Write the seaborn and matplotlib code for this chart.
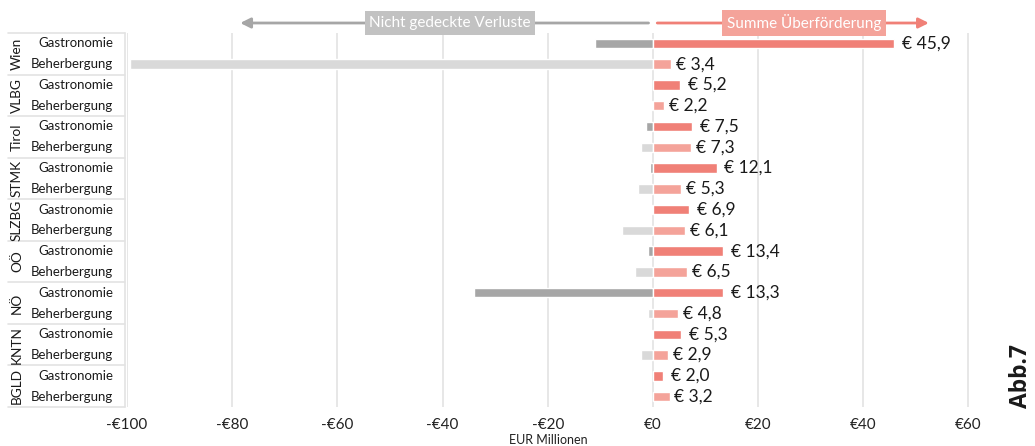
import matplotlib
matplotlib.use("Agg")
import matplotlib.pyplot as plt
import matplotlib.transforms as mtrans
import seaborn as sns
import pandas as pd

regions = ["Wien", "VLBG", "Tirol", "STMK", "SLZBG", "OÖ", "NÖ", "KNTN", "BGLD"]
subcats = ["Gastronomie", "Beherbergung"]
# Summe Überförderung (EUR Mio.), per region: [Gastronomie, Beherbergung]
surplus_gastro = [45.9, 5.2, 7.5, 12.1, 6.9, 13.4, 13.3, 5.3, 2.0]
surplus_beh = [3.4, 2.2, 7.3, 5.3, 6.1, 6.5, 4.8, 2.9, 3.2]
# Nicht gedeckte Verluste (EUR Mio.)
loss_gastro = [-11.0, 0.0, -1.4, -0.6, -0.2, -1.0, -34.1, -0.2, 0.0]
loss_beh = [-99.4, -0.2, -2.3, -2.8, -5.8, -3.4, -1.0, -2.3, 0.0]
xticks = [-100, -80, -60, -40, -20, 0, 20, 40, 60]

rows = []
for i, r in enumerate(regions):
    rows.append(dict(key=f"{r}|Gastronomie", region=r, sub="Gastronomie",
                     pos=surplus_gastro[i], neg=loss_gastro[i]))
    rows.append(dict(key=f"{r}|Beherbergung", region=r, sub="Beherbergung",
                     pos=surplus_beh[i], neg=loss_beh[i]))
df = pd.DataFrame(rows)
order = list(df["key"])

sns.set_theme(style="white")
plt.rcParams["font.family"] = ["Lato", "DejaVu Sans"]

W, H = 1035, 446
fig = plt.figure(figsize=(W / 100, H / 100), dpi=100)
x0, x1 = 127, 1000
y0, y1 = 33, 407
ax = fig.add_axes([x0 / W, 1 - y1 / H, (x1 - x0) / W, (y1 - y0) / H])

pos_pal = {"Gastronomie": "#F08077", "Beherbergung": "#F4A39A"}
neg_pal = {"Gastronomie": "#A6A6A6", "Beherbergung": "#D9D9D9"}

sns.barplot(data=df, x="neg", y="key", hue="sub", order=order, hue_order=subcats,
            palette=neg_pal, dodge=False, width=0.45, ax=ax, legend=False,
            orient="h", saturation=1)
sns.barplot(data=df, x="pos", y="key", hue="sub", order=order, hue_order=subcats,
            palette=pos_pal, dodge=False, width=0.45, ax=ax, legend=False,
            orient="h", saturation=1)

ax.set_xlim(-100, 66)
ax.set_ylim(len(order) - 0.5, -0.5)
ax.set_xticks(xticks)
ax.set_xticklabels([("-€" if v < 0 else "€") + str(abs(v)) for v in xticks],
                   fontsize=11, color="#222222")
ax.tick_params(axis="x", length=0, pad=8)
ax.set_yticks([])
ax.set_ylabel("")
ax.set_xlabel("")
for s in ax.spines.values():
    s.set_visible(False)
ax.grid(False)
for v in xticks:
    ax.axvline(v, color="#E3E3E3", lw=1.2, zorder=0)

# value labels
for i, row in df.iterrows():
    off = 1.5 if row["sub"] == "Gastronomie" else 0.9
    ax.text(row["pos"] + off, i, "€ " + f"{row['pos']:.1f}".replace(".", ","),
            va="center", ha="left", fontsize=12.5, color="#1a1a1a")

# left table
bt = mtrans.blended_transform_factory(fig.transFigure, ax.transData)
tl, tr = 8 / W, 125 / W
for k in range(len(regions) + 1):
    yy = 2 * k - 0.5
    ax.plot([tl, tr], [yy, yy], transform=bt, color="#E3E3E3", lw=1.2, clip_on=False)
ax.plot([tr, tr], [-0.5, len(order) - 0.5], transform=bt, color="#E3E3E3", lw=1.2,
        clip_on=False)
for k, r in enumerate(regions):
    ax.text(17 / W, 2 * k + 0.5, r, transform=bt, rotation=90, ha="center",
            va="center", fontsize=9.8, color="#1a1a1a")
for i, row in df.iterrows():
    ax.text(113 / W, i, row["sub"], transform=bt, ha="right", va="center",
            fontsize=9.5, color="#1a1a1a")

# top arrows with labels
at = mtrans.blended_transform_factory(ax.transData, ax.transAxes)
ya = 1 + (y0 - 23) / (y1 - y0)
ax.annotate("", xy=(-79, ya), xytext=(-0.3, ya), xycoords=at, textcoords=at,
            arrowprops=dict(arrowstyle="-|>,head_length=0.5,head_width=0.25",
                            color="#A6A6A6", lw=2.0), annotation_clip=False)
ax.annotate("", xy=(53, ya), xytext=(0.3, ya), xycoords=at, textcoords=at,
            arrowprops=dict(arrowstyle="-|>,head_length=0.5,head_width=0.25",
                            color="#F08077", lw=2.0), annotation_clip=False)
ax.text(-38.6, ya, "Nicht gedeckte Verluste", transform=at, ha="center", va="center",
        fontsize=11, color="white",
        bbox=dict(boxstyle="square,pad=0.3", fc="#C2C2C2", ec="none"))
ax.text(28.7, ya, "Summe Überförderung", transform=at, ha="center", va="center",
        fontsize=11, color="white",
        bbox=dict(boxstyle="square,pad=0.3", fc="#F4A39A", ec="none"))

fig.text(548 / W, 1 - 440 / H, "EUR Millionen", ha="center", va="center",
         fontsize=9, color="#222222")
fig.text(1021 / W, 1 - 376 / H, "Abb.7", rotation=90, ha="center", va="center",
         fontsize=16.5, fontweight="bold", color="#1a1a1a",
         family=["Open Sans", "DejaVu Sans"])

fig.savefig("out.png", dpi=100)
